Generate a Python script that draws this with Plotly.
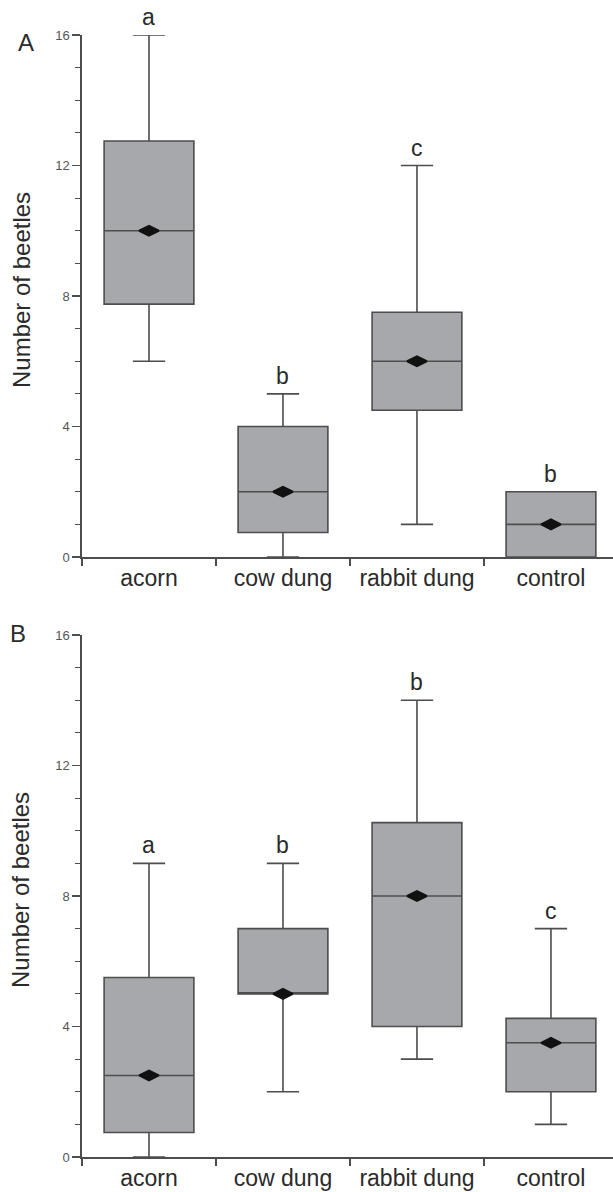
import plotly.graph_objects as go

categories = ["acorn", "cow dung", "rabbit dung", "control"]

# Panel A
a_low = [6, 0, 1, 0]
a_q1 = [7.75, 0.75, 4.5, 0]
a_med = [10, 2, 6, 1]
a_q3 = [12.75, 4, 7.5, 2]
a_high = [16, 5, 12, 2]
a_mean = [10, 2, 6, 1]
a_letters = ["a", "b", "c", "b"]

# Panel B
b_low = [0, 2, 3, 1]
b_q1 = [0.75, 5, 4, 2]
b_med = [2.5, 5, 8, 3.5]
b_q3 = [5.5, 7, 10.25, 4.25]
b_high = [9, 9, 14, 7]
b_mean = [2.5, 5, 8, 3.5]
b_letters = ["a", "b", "b", "c"]

y_ticks = [0, 4, 8, 12, 16]

FONT = "Liberation Sans, Arial, sans-serif"
LINE = "#4d4d4d"
FILL = "#a7a8ac"
TXT = "#2b2b2b"

W, H = 613, 1192


def px(xw):
    return xw / W


def py(yw):
    return 1 - yw / H


fig = go.Figure()

panels = [
    ("x", "y", a_low, a_q1, a_med, a_q3, a_high, a_mean, a_letters),
    ("x2", "y2", b_low, b_q1, b_med, b_q3, b_high, b_mean, b_letters),
]

for xr, yr, lo, q1, med, q3, hi, mn, letters in panels:
    fig.add_trace(go.Box(
        x=categories, q1=q1, median=med, q3=q3,
        lowerfence=lo, upperfence=hi,
        xaxis=xr, yaxis=yr,
        width=0.67, whiskerwidth=0.36,
        fillcolor=FILL, line=dict(color=LINE, width=1.6),
        boxpoints=False, showlegend=False, hoverinfo="skip",
    ))
    fig.add_trace(go.Scatter(
        x=categories, y=mn, xaxis=xr, yaxis=yr, mode="markers",
        marker=dict(symbol="diamond-wide", size=14, color="#111111",
                    line=dict(color="#111111", width=2)),
        showlegend=False, hoverinfo="skip", cliponaxis=False,
    ))
    for c, h, l in zip(categories, hi, letters):
        fig.add_annotation(
            x=c, y=h, xref=xr, yref=yr, text=l, showarrow=False,
            yanchor="bottom", yshift=3,
            font=dict(family=FONT, size=23, color=TXT),
        )

x_dom = [px(82), 1.0]
x_range = [-0.5, 3.463]
a_dom = [py(557), py(35)]
b_dom = [py(1157), py(635)]


def xaxis(anchor):
    return dict(
        domain=x_dom, anchor=anchor, type="category",
        range=x_range, showline=True, linecolor=LINE, linewidth=1.6,
        ticks="outside", tickson="boundaries", ticklen=7, tickcolor=LINE,
        tickwidth=1.6, showgrid=False, zeroline=False,
        tickfont=dict(family=FONT, size=23, color=TXT),
        automargin=False,
    )


def yaxis(dom, anchor):
    return dict(
        domain=dom, anchor=anchor, range=[0, 16], tickvals=y_ticks,
        showline=True, linecolor=LINE, linewidth=1.6,
        ticks="outside", ticklen=8, tickcolor=LINE, tickwidth=1.4,
        minor=dict(dtick=1, ticks="outside", ticklen=5, tickcolor=LINE, tickwidth=1.2),
        showgrid=False, zeroline=False,
        tickfont=dict(family=FONT, size=13, color="#555555"),
        automargin=False,
    )


fig.update_layout(
    width=W, height=H,
    margin=dict(l=0, r=0, t=0, b=0),
    paper_bgcolor="white", plot_bgcolor="white",
    xaxis=xaxis("y"), yaxis=yaxis(a_dom, "x"),
    xaxis2=xaxis("y2"), yaxis2=yaxis(b_dom, "x2"),
)

# y-axis titles
for yc in (290, 890):
    fig.add_annotation(x=px(21), y=py(yc), xref="paper", yref="paper",
                       text="Number of beetles", textangle=-90, showarrow=False,
                       xanchor="center", yanchor="middle",
                       font=dict(family=FONT, size=24, color=TXT))

# panel letters
fig.add_annotation(x=px(26), y=py(43), xref="paper", yref="paper",
                   text="A", showarrow=False, xanchor="center", yanchor="middle",
                   font=dict(family=FONT, size=24, color=TXT))
fig.add_annotation(x=px(18), y=py(633), xref="paper", yref="paper",
                   text="B", showarrow=False, xanchor="center", yanchor="middle",
                   font=dict(family=FONT, size=24, color=TXT))

fig.write_html(
    "out.html",
    config={"displayModeBar": False, "staticPlot": True},
    post_script="document.body.style.margin='0px';document.body.style.overflow='hidden';",
)
